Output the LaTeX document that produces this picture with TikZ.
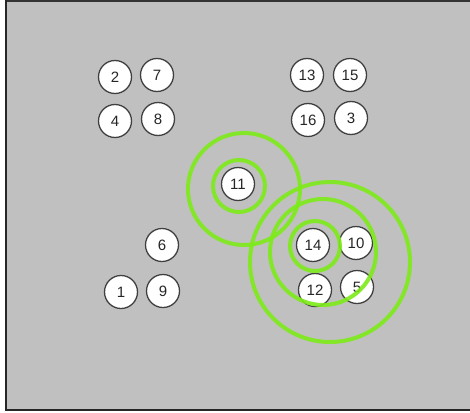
\documentclass[tikz,border=0pt]{standalone}
\usepackage{fontspec}
\setmainfont{Liberation Sans}
\definecolor{canvasgray}{RGB}{192,192,192}
\definecolor{ripplegreen}{RGB}{125,235,25}

\begin{document}
\begin{tikzpicture}[x=1pt, y=-1pt,
    ball/.style={circle, draw=black!75, fill=white, line width=1.3pt,
        minimum size=33pt, inner sep=0pt,
        font=\fontsize{15}{15}\selectfont, text=black!85},
    ripple/.style={draw=ripplegreen, line width=4pt, opacity=0.9}]

    % Canvas
    \useasboundingbox (0,0) rectangle (470,412);
    \fill[white] (0,0) rectangle (470,412);
    \fill[canvasgray] (6,1) rectangle (470,410);
    \draw[line width=1.2pt, black!80] (470,1) -- (6,1);
    \draw[line width=2.2pt, black!85] (6,0) -- (6,410) -- (470,410);

    % Upper left group
    \node[ball] (n2) at (115,77) {2};
    \node[ball] (n7) at (157,75) {7};
    \node[ball] (n4) at (115,121) {4};
    \node[ball] (n8) at (158,119) {8};

    % Upper right group
    \node[ball] (n13) at (307,75) {13};
    \node[ball] (n15) at (350,75) {15};
    \node[ball] (n16) at (308,120) {16};
    \node[ball] (n3) at (351,118) {3};

    % Middle
    \node[ball] (n11) at (238,184) {11};

    % Lower left group
    \node[ball] (n6) at (162,245) {6};
    \node[ball] (n1) at (121,292) {1};
    \node[ball] (n9) at (163,291) {9};

    % Lower right group
    \node[ball] (n14) at (313,245) {14};
    \node[ball] (n10) at (356,243) {10};
    \node[ball] (n12) at (315,290) {12};
    \node[ball] (n5) at (357,287) {5};

    % Ripples round 11
    \draw[ripple] (244,189) circle[radius=56];
    \draw[ripple] (239,186) circle[radius=26];

    % Ripples round the lower right group
    \draw[ripple] (330,262) circle[radius=80];
    \draw[ripple] (323,252) circle[radius=53];
    \draw[ripple] (315,246) circle[radius=25];

\end{tikzpicture}
\end{document}
